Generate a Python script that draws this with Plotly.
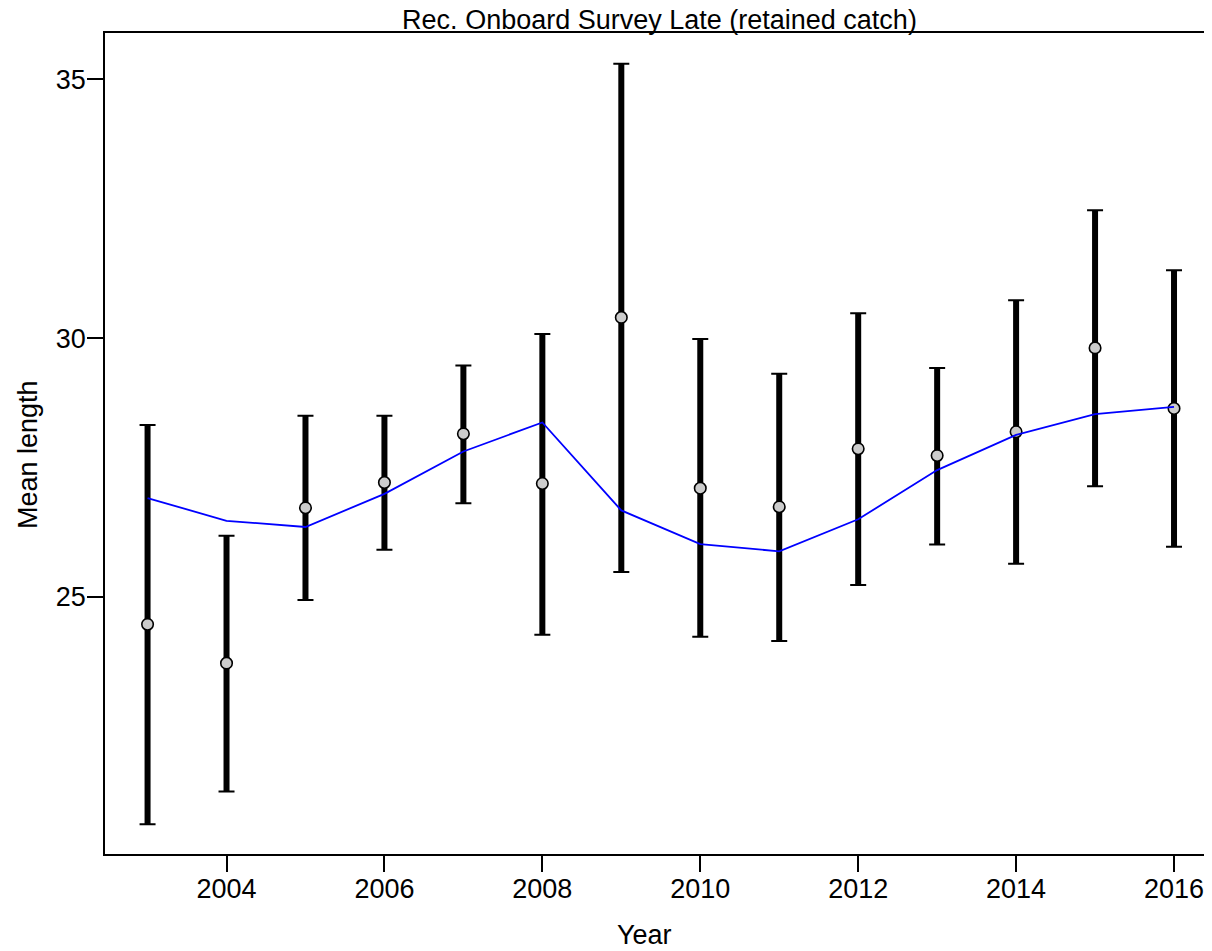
import plotly.graph_objects as go

years = [2003, 2004, 2005, 2006, 2007, 2008, 2009, 2010, 2011, 2012, 2013, 2014, 2015, 2016]
obs_mean = [24.47, 23.72, 26.72, 27.21, 28.15, 27.19, 30.40, 27.10, 26.74, 27.86, 27.73, 28.19, 29.81, 28.64]
ci_upper = [28.32, 26.18, 28.50, 28.50, 29.47, 30.08, 35.30, 29.98, 29.31, 30.48, 29.42, 30.73, 32.47, 31.31]
ci_lower = [20.61, 21.24, 24.94, 25.91, 26.81, 24.27, 25.48, 24.23, 24.15, 25.23, 26.01, 25.64, 27.14, 25.97]
expected = [26.91, 26.47, 26.35, 26.99, 27.81, 28.37, 26.67, 26.02, 25.88, 26.50, 27.45, 28.13, 28.53, 28.67]

x_tick_vals = [2004, 2006, 2008, 2010, 2012, 2014, 2016]
y_tick_vals = [25, 30, 35]

title_text = "Rec. Onboard Survey Late (retained catch)"
x_label = "Year"
y_label = "Mean length"

FONT = "Arial, Liberation Sans, sans-serif"
FS = 27

# page body has an 8px default margin: figure is offset by 8px right/down
W, H = 1204, 943

# thick vertical CI segments
seg_x, seg_y = [], []
for yr, lo, hi in zip(years, ci_lower, ci_upper):
    seg_x += [yr, yr, None]
    seg_y += [lo, hi, None]

fig = go.Figure()

fig.add_trace(go.Scatter(
    x=seg_x, y=seg_y, mode="lines",
    line=dict(color="black", width=6),
    hoverinfo="skip", showlegend=False,
))

# caps via error bars on invisible points
fig.add_trace(go.Scatter(
    x=years, y=obs_mean, mode="markers",
    marker=dict(size=1, color="rgba(0,0,0,0)"),
    error_y=dict(
        type="data", symmetric=False,
        array=[h - m for h, m in zip(ci_upper, obs_mean)],
        arrayminus=[m - l for m, l in zip(obs_mean, ci_lower)],
        color="black", thickness=2, width=8,
    ),
    hoverinfo="skip", showlegend=False,
))

fig.add_trace(go.Scatter(
    x=years, y=obs_mean, mode="markers",
    marker=dict(size=11.5, color="#CCCCCC", line=dict(color="black", width=1.6)),
    showlegend=False,
))

fig.add_trace(go.Scatter(
    x=years, y=expected, mode="lines",
    line=dict(color="#0000FF", width=1.8),
    showlegend=False,
))

fig.update_layout(
    width=W, height=H,
    margin=dict(l=97, r=0, t=25, b=97),
    paper_bgcolor="white", plot_bgcolor="white",
    font=dict(family=FONT, size=FS, color="black"),
    title=dict(text=title_text, x=651.5 / W, xref="container", xanchor="center",
               y=1 - 12 / H, yref="container", yanchor="middle",
               font=dict(family=FONT, size=FS, color="black")),
    xaxis=dict(
        range=[2002.461, 2016.481], tickmode="array", tickvals=x_tick_vals,
        ticks="outside", ticklen=16, tickwidth=1.5, tickcolor="black",
        showline=True, linecolor="black", linewidth=1.5, mirror=True,
        showgrid=False, zeroline=False, ticklabelstandoff=-6,
        tickfont=dict(family=FONT, size=FS, color="black"),
    ),
    yaxis=dict(
        range=[20.033, 35.894], tickmode="array", tickvals=y_tick_vals,
        ticks="outside", ticklen=16, tickwidth=1.5, tickcolor="black",
        showline=True, linecolor="black", linewidth=1.5, mirror=False,
        showgrid=False, zeroline=False, ticklabelstandoff=-4,
        tickfont=dict(family=FONT, size=FS, color="black"),
    ),
    annotations=[
        dict(text=x_label, xref="paper", yref="paper",
             x=(644 - 105) / 1107, y=(854 - 935) / 821,
             xanchor="center", yanchor="middle", showarrow=False,
             font=dict(family=FONT, size=FS, color="black")),
        dict(text=y_label, xref="paper", yref="paper", textangle=-90,
             x=(28 - 105) / 1107, y=(854 - 455) / 821,
             xanchor="center", yanchor="middle", showarrow=False,
             font=dict(family=FONT, size=FS, color="black")),
    ],
)

fig.write_html("out.html")
